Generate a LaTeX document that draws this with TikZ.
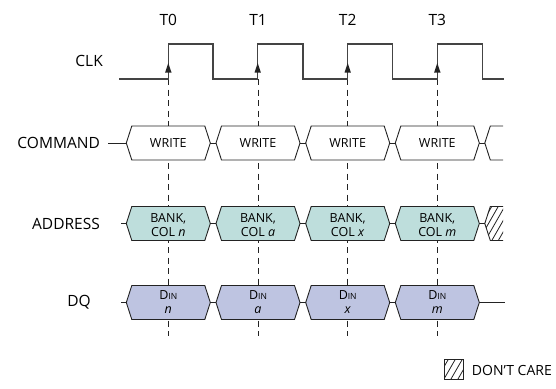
\documentclass[tikz,border=0pt]{standalone}
\usepackage{fontspec}
\setmainfont{Open Sans}
\definecolor{addrfill}{RGB}{190,222,220}
\definecolor{dqfill}{RGB}{190,196,225}
\definecolor{linec}{RGB}{35,35,35}
\begin{document}
\begin{tikzpicture}[x=1pt,y=-1pt,
  sig/.style={draw=linec,line width=0.9pt,line join=miter},
  clk/.style={draw=linec!85,line width=1.2pt},
  guide/.style={draw=linec,line width=0.9pt,dash pattern=on 6pt off 4.5pt},
  rowlabel/.style={anchor=east,inner sep=0pt,font=\fontsize{15.5}{18}\selectfont},
  tlabel/.style={inner sep=0pt,font=\fontsize{15.5}{18}\selectfont},
  boxtext/.style={inner sep=0pt,align=center,font=\fontsize{12.5}{14}\selectfont},
  hatch/.style={draw=linec,line width=0.8pt}]
\useasboundingbox (0,0) rectangle (556,388);
\def\hw{42}\def\sl{5.5}\def\hh{17}
% guides
\foreach \c [count=\i from 0] in {168.3,258,347.7,437.3}{
  \coordinate (gtop\i) at (\c,79);
  \coordinate (gbot\i) at (\c,336);
  \draw[guide] (gtop\i) -- (gbot\i);
  \node[tlabel] (T\i) at (\c,19.5) {T\i};
}
% clock
\node[rowlabel] (clklab) at (103,61) {CLK};
\draw[clk] (119,79) -- (168.3,79) -- (168.3,44) -- (213,44) -- (213,79)
  -- (257.7,79) -- (257.7,44) -- (303,44) -- (303,79)
  -- (347.7,79) -- (347.7,44) -- (392.7,44) -- (392.7,79)
  -- (437.3,79) -- (437.3,44) -- (482.3,44) -- (482.3,79) -- (504,79);
\foreach \c in {168.3,257.7,347.7,437.3}{
  \fill[linec] (\c,63) -- ({\c-3.2},72.5) -- ({\c+3.2},72.5) -- cycle;
}
% generic row drawer
\newcommand\hexrow[3]{% y, fill, prefix
  \foreach \c [count=\i from 0] in {168.3,258,347.7,437.3}{
    \path[sig,fill=#2] ({\c-\hw},#1) -- ({\c-\hw+\sl},{#1-\hh}) -- ({\c+\hw-\sl},{#1-\hh})
      -- ({\c+\hw},#1) -- ({\c+\hw-\sl},{#1+\hh}) -- ({\c-\hw+\sl},{#1+\hh}) -- cycle;
    \coordinate (#3L\i) at ({\c-\hw},#1);
    \coordinate (#3R\i) at ({\c+\hw},#1);
  }
  \draw[sig] (#3R0) -- (#3L1);
  \draw[sig] (#3R1) -- (#3L2);
  \draw[sig] (#3R2) -- (#3L3);
}
% COMMAND
\node[rowlabel] (cmdlab) at (100,143) {COMMAND};
\hexrow{143}{white}{c}
\coordinate (cstart) at (108,143);
\draw[sig] (cstart) -- (cL0);
\coordinate (cL4) at (484.8,143);
\draw[sig] (cR3) -- (cL4);
\draw[sig] (503,126) -- (490.3,126) -- (cL4) -- (490.3,160) -- (503,160);
\foreach \c [count=\i from 0] in {168.3,258,347.7,437.3}{
  \node[boxtext] (cmd\i) at (\c,143) {WRITE};
}
% ADDRESS
\node[rowlabel] (adrlab) at (100,223.5) {ADDRESS};
\hexrow{223.5}{addrfill}{a}
\coordinate (astart) at (121,223.5);
\draw[sig] (astart) -- (aL0);
\coordinate (aL4) at (484.8,223.5);
\draw[sig] (aR3) -- (aL4);
\begin{scope}
  \clip (aL4) -- (490.3,206.5) -- (503,206.5) -- (503,240.5) -- (490.3,240.5) -- cycle;
  \foreach \x in {472,478.5,...,504}{
    \draw[hatch] (\x,241) -- ({\x+20},206);
  }
\end{scope}
\draw[sig] (503,206.5) -- (490.3,206.5) -- (aL4) -- (490.3,240.5) -- (503,240.5);
\foreach \c/\t [count=\i from 0] in {168.3/n,258/a,347.7/x,437.3/m}{
  \node[boxtext] (adr\i) at (\c,225) {BANK,\\COL \textit{\t}};
}
% DQ
\node[rowlabel] (dqlab) at (91,302.5) {DQ};
\hexrow{302.5}{dqfill}{d}
\coordinate (dstart) at (121,302.5);
\draw[sig] (dstart) -- (dL0);
\coordinate (dend) at (505,302.5);
\draw[sig] (dR3) -- (dend);
\foreach \c/\t [count=\i from 0] in {168.3/n,258/a,347.7/x,437.3/m}{
  \node[boxtext] (dq\i) at (\c,302) {D{\fontsize{8.5}{10}\selectfont IN}\\\textit{\t}};
}
% legend
\begin{scope}
  \clip (444,359) rectangle (463,379);
  \foreach \x in {430,437,...,466}{
    \draw[hatch] (\x,379) -- ({\x+11.5},359);
  }
\end{scope}
\node[draw=linec,line width=0.8pt,minimum width=19pt,minimum height=20pt,inner sep=0pt] (legbox) at (453.5,369) {};
\node[anchor=east,inner sep=0pt,font=\fontsize{14}{16}\selectfont] (legtext) at (552,370) {DON’T CARE};
\end{tikzpicture}
\end{document}
